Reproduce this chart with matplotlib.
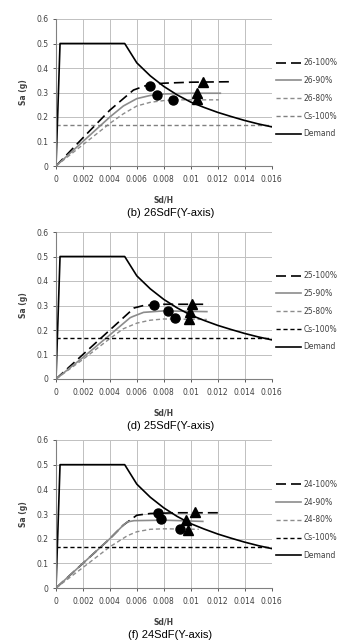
import numpy as np
import matplotlib
matplotlib.use("Agg")
import matplotlib.pyplot as plt

# Demand spectrum (same in all three panels)
demand_x = [0, 0.0003, 0.0051, 0.006, 0.007, 0.008, 0.009, 0.010, 0.011, 0.012, 0.013, 0.014, 0.015, 0.016]
demand_y = [0, 0.5, 0.5, 0.421, 0.368, 0.325, 0.29, 0.261, 0.239, 0.219, 0.202, 0.186, 0.172, 0.16]
cs_value = 0.167

# (b) 26SdF
c26_100_x = [0, 0.002, 0.004, 0.005, 0.00575, 0.0065, 0.007, 0.008, 0.010, 0.013]
c26_100_y = [0, 0.115, 0.228, 0.275, 0.31, 0.325, 0.333, 0.338, 0.342, 0.344]
c26_90_x = [0, 0.002, 0.004, 0.005, 0.006, 0.007, 0.008, 0.010, 0.0122]
c26_90_y = [0, 0.1, 0.2, 0.245, 0.275, 0.288, 0.294, 0.297, 0.297]
c26_80_x = [0, 0.002, 0.004, 0.005, 0.006, 0.007, 0.008, 0.009, 0.0121]
c26_80_y = [0, 0.087, 0.174, 0.213, 0.245, 0.26, 0.267, 0.27, 0.27]
c26_circ_x = [0.00695, 0.0075, 0.00868]
c26_circ_y = [0.327, 0.288, 0.268]
c26_tri_x = [0.01095, 0.0105, 0.0105]
c26_tri_y = [0.343, 0.299, 0.272]

# (d) 25SdF
c25_100_x = [0, 0.002, 0.004, 0.005, 0.0058, 0.0065, 0.008, 0.0113]
c25_100_y = [0, 0.1, 0.2, 0.25, 0.29, 0.3, 0.305, 0.305]
c25_90_x = [0, 0.002, 0.004, 0.0055, 0.0057, 0.0065, 0.008, 0.0112]
c25_90_y = [0, 0.088, 0.18, 0.25, 0.255, 0.272, 0.278, 0.275]
c25_80_x = [0, 0.002, 0.004, 0.005, 0.006, 0.007, 0.008, 0.0112]
c25_80_y = [0, 0.08, 0.165, 0.205, 0.228, 0.24, 0.245, 0.243]
c25_circ_x = [0.0073, 0.0083, 0.0088]
c25_circ_y = [0.302, 0.279, 0.247]
c25_tri_x = [0.0101, 0.00995, 0.0099]
c25_tri_y = [0.307, 0.275, 0.244]

# (f) 24SdF
c24_100_x = [0, 0.002, 0.004, 0.005, 0.0055, 0.006, 0.007, 0.009, 0.0123]
c24_100_y = [0, 0.1, 0.2, 0.255, 0.275, 0.295, 0.302, 0.305, 0.305]
c24_90_x = [0, 0.002, 0.004, 0.005, 0.0053, 0.0058, 0.008, 0.0109]
c24_90_y = [0, 0.1, 0.2, 0.255, 0.268, 0.273, 0.275, 0.27]
c24_80_x = [0, 0.002, 0.004, 0.0053, 0.006, 0.007, 0.008, 0.0106]
c24_80_y = [0, 0.083, 0.167, 0.212, 0.228, 0.238, 0.24, 0.238]
c24_circ_x = [0.00755, 0.00783, 0.0092]
c24_circ_y = [0.304, 0.278, 0.24]
c24_tri_x = [0.0103, 0.00963, 0.0098]
c24_tri_y = [0.31, 0.275, 0.237]

panels = [
    ("26", c26_100_x, c26_100_y, c26_90_x, c26_90_y, c26_80_x, c26_80_y,
     c26_circ_x, c26_circ_y, c26_tri_x, c26_tri_y, "(b) 26SdF(Y-axis)", "#808080"),
    ("25", c25_100_x, c25_100_y, c25_90_x, c25_90_y, c25_80_x, c25_80_y,
     c25_circ_x, c25_circ_y, c25_tri_x, c25_tri_y, "(d) 25SdF(Y-axis)", "black"),
    ("24", c24_100_x, c24_100_y, c24_90_x, c24_90_y, c24_80_x, c24_80_y,
     c24_circ_x, c24_circ_y, c24_tri_x, c24_tri_y, "(f) 24SdF(Y-axis)", "black"),
]

fig = plt.figure(figsize=(3.41, 6.41), dpi=100)
W, H = 341.0, 641.0
# axes positions in pixels: left, right, top, bottom
ax_px = [(56, 271.5, 19, 166), (56, 271.5, 232, 379), (56, 271.5, 440, 588)]
tick_col = "#404040"

for (tag, x1, y1, x2, y2, x3, y3, cx, cy, tx, ty, caption, cs_col), (l, r, t, b) in zip(panels, ax_px):
    ax = fig.add_axes([l / W, 1 - b / H, (r - l) / W, (b - t) / H])
    ax.plot(x1, y1, color="black", lw=1.2, ls=(0, (6, 3)), label=tag + "-100%")
    ax.plot(x2, y2, color="#8c8c8c", lw=1.2, label=tag + "-90%")
    ax.plot(x3, y3, color="#8c8c8c", lw=1.0, ls=(0, (3, 2)), label=tag + "-80%")
    ax.axhline(cs_value, color=cs_col, lw=1.0, ls=(0, (3, 2)), label="Cs-100%")
    ax.plot(demand_x, demand_y, color="black", lw=1.2, label="Demand")
    ax.plot(cx, cy, "o", color="black", ms=6.5, ls="none")
    ax.plot(tx, ty, "^", color="black", ms=6.5, ls="none")

    ax.set_xlim(0, 0.016)
    ax.set_ylim(0, 0.6)
    ax.set_xticks(np.arange(0, 0.0161, 0.002))
    ax.set_xticklabels(["0", "0.002", "0.004", "0.006", "0.008", "0.01", "0.012", "0.014", "0.016"])
    ax.set_yticks(np.arange(0, 0.61, 0.1))
    ax.set_yticklabels(["0", "0.1", "0.2", "0.3", "0.4", "0.5", "0.6"])
    ax.grid(True, color="#c0c0c0", lw=0.7)
    ax.set_axisbelow(True)
    for s in ["top", "right"]:
        ax.spines[s].set_visible(False)
    ax.spines["left"].set_color("#808080")
    ax.spines["bottom"].set_color("#808080")
    ax.tick_params(labelsize=5.5, colors=tick_col, length=2.5, width=0.6, pad=3)
    ax.tick_params(axis="x", pad=4)
    ax.set_xlabel("Sd/H", fontsize=5.5, fontweight="bold", color=tick_col, labelpad=8)
    ax.set_ylabel("Sa (g)", fontsize=5.5, fontweight="bold", color=tick_col, labelpad=6)

    leg = ax.legend(loc="center left", bbox_to_anchor=(1.02, 0.46), frameon=False,
                    fontsize=5.5, handlelength=3.3, handletextpad=0.3,
                    labelspacing=1.15, borderaxespad=0, borderpad=0)
    for txt in leg.get_texts():
        txt.set_color(tick_col)

    fig.text(0.5, 1 - (b + 47) / H, caption, ha="center", va="center",
             fontsize=8, family="Liberation Sans")

fig.savefig("out.png", dpi=100, facecolor="white")
